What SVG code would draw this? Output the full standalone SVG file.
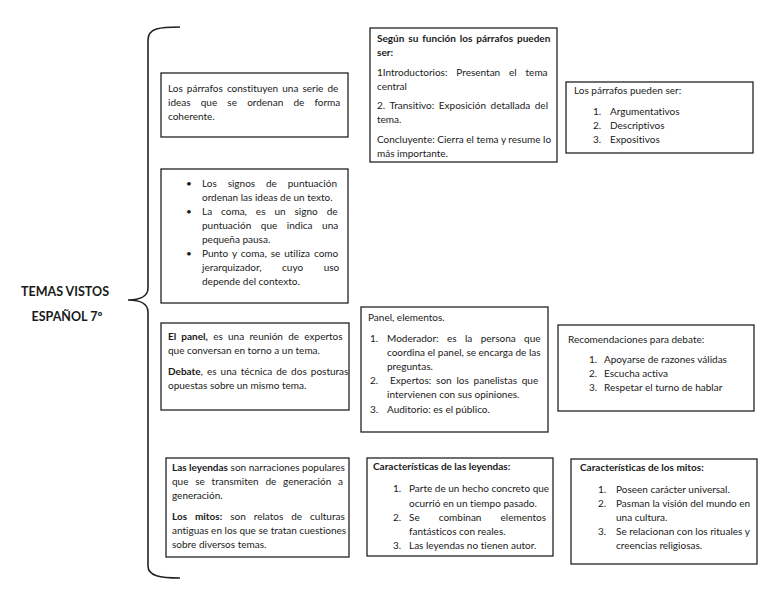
<svg xmlns="http://www.w3.org/2000/svg" width="768" height="594" viewBox="0 0 768 594">
<style>
text{font-family:Lato,"Liberation Sans",sans-serif;font-size:10px;fill:#1a1a1a;font-variant-ligatures:none}
.b{font-weight:bold}
.box{fill:#fff;stroke:#222;stroke-width:1.3}
.brace{fill:none;stroke:#222;stroke-width:1.6}
.t{font-size:12.5px;font-weight:bold}
</style>
<rect width="768" height="594" fill="#fff"/>
<g id="connectors">
<path class="brace" d="M180,27 C160,27 148,28 148,40 L148,288 C148,296 140,300 128,300 C140,300 148,304 148,312 L148,566 C148,576 160,578 180,578"/>
</g>
<g id="title">
<text class="t" x="65" y="296" text-anchor="middle">TEMAS VISTOS</text>
<text class="t" x="67" y="321" text-anchor="middle">ESPAÑOL 7º</text>
</g>
<g id="n1">
<rect class="box" x="161" y="73" width="187" height="64"/>
<text x="168" y="92" word-spacing="1.5">Los párrafos constituyen una serie de</text>
<text x="168" y="106" word-spacing="7.6">ideas que se ordenan de forma</text>
<text x="168" y="120">coherente.</text>
</g>
<g id="n2">
<rect class="box" x="370" y="28" width="187" height="134"/>
<text class="b" x="377" y="42" word-spacing="1.5">Según su función los párrafos pueden</text>
<text class="b" x="377" y="56">ser:</text>
<text x="377" y="76" word-spacing="6.3">1Introductorios: Presentan el tema</text>
<text x="377" y="90">central</text>
<text x="377" y="109" word-spacing="2">2. Transitivo: Exposición detallada del</text>
<text x="377" y="123">tema.</text>
<text x="377" y="143">Concluyente: Cierra el tema y resume lo</text>
<text x="377" y="157">más importante.</text>
</g>
<g id="n3">
<rect class="box" x="566" y="82" width="187" height="71"/>
<text x="574" y="94">Los párrafos pueden ser:</text>
<text x="593" y="115">1.</text><text x="610" y="115">Argumentativos</text>
<text x="593" y="129">2.</text><text x="610" y="129">Descriptivos</text>
<text x="593" y="143">3.</text><text x="610" y="143">Expositivos</text>
</g>
<g id="n4">
<rect class="box" x="161" y="169" width="187" height="134"/>
<text x="186" y="187">•</text>
<text x="202" y="187" word-spacing="8.3">Los signos de puntuación</text>
<text x="202" y="201">ordenan las ideas de un texto.</text>
<text x="186" y="215">•</text>
<text x="202" y="215" word-spacing="6.4">La coma, es un signo de</text>
<text x="202" y="229" word-spacing="7">puntuación que indica una</text>
<text x="202" y="243">pequeña pausa.</text>
<text x="186" y="257">•</text>
<text x="202" y="257" word-spacing="1.4">Punto y coma, se utiliza como</text>
<text x="202" y="271" word-spacing="18">jerarquizador, cuyo uso</text>
<text x="202" y="285">depende del contexto.</text>
</g>
<g id="n5">
<rect class="box" x="161" y="323" width="188" height="87"/>
<text x="168" y="340" word-spacing="2.7"><tspan class="b">El panel,</tspan> es una reunión de expertos</text>
<text x="168" y="354">que conversan en torno a un tema.</text>
<text x="168" y="375" word-spacing="1.5"><tspan class="b">Debate</tspan>, es una técnica de dos posturas</text>
<text x="168" y="389">opuestas sobre un mismo tema.</text>
</g>
<g id="n6">
<rect class="box" x="361" y="307" width="187" height="125"/>
<text x="368" y="321">Panel, elementos.</text>
<text x="370" y="342">1.</text><text x="387" y="342" word-spacing="5.8">Moderador: es la persona que</text>
<text x="387" y="356">coordina el panel, se encarga de las</text>
<text x="387" y="370">preguntas.</text>
<text x="370" y="384">2.</text><text x="390" y="384" word-spacing="2.2">Expertos: son los panelistas que</text>
<text x="387" y="398">intervienen con sus opiniones.</text>
<text x="370" y="413">3.</text><text x="387" y="413">Auditorio: es el público.</text>
</g>
<g id="n7">
<rect class="box" x="558" y="325" width="196" height="86"/>
<text x="568" y="343">Recomendaciones para debate:</text>
<text x="589" y="363">1.</text><text x="604" y="363">Apoyarse de razones válidas</text>
<text x="589" y="377">2.</text><text x="604" y="377">Escucha activa</text>
<text x="589" y="391">3.</text><text x="604" y="391">Respetar el turno de hablar</text>
</g>
<g id="n8">
<rect class="box" x="166" y="458" width="183" height="99"/>
<text x="172" y="471"><tspan class="b">Las leyendas</tspan> son narraciones populares</text>
<text x="172" y="485" word-spacing="4.2">que se transmiten de generación a</text>
<text x="172" y="499">generación.</text>
<text x="172" y="520" word-spacing="5.4"><tspan class="b">Los mitos:</tspan> son relatos de culturas</text>
<text x="172" y="534">antiguas en los que se tratan cuestiones</text>
<text x="172" y="548">sobre diversos temas.</text>
</g>
<g id="n9">
<rect class="box" x="367" y="458" width="186" height="98"/>
<text class="b" x="373" y="470">Características de las leyendas:</text>
<text x="393" y="492">1.</text><text x="409" y="492">Parte de un hecho concreto que</text>
<text x="409" y="507">ocurrió en un tiempo pasado.</text>
<text x="393" y="521">2.</text><text x="409" y="521" word-spacing="16.5">Se combinan elementos</text>
<text x="409" y="535">fantásticos con reales.</text>
<text x="393" y="549">3.</text><text x="409" y="549">Las leyendas no tienen autor.</text>
</g>
<g id="n10">
<rect class="box" x="571" y="459" width="186" height="105"/>
<text class="b" x="580" y="471">Características de los mitos:</text>
<text x="598" y="493">1.</text><text x="616" y="493">Poseen carácter universal.</text>
<text x="598" y="507">2.</text><text x="616" y="507">Pasman la visión del mundo en</text>
<text x="616" y="521">una cultura.</text>
<text x="598" y="535">3.</text><text x="616" y="535">Se relacionan con los rituales y</text>
<text x="616" y="549">creencias religiosas.</text>
</g>
</svg>
